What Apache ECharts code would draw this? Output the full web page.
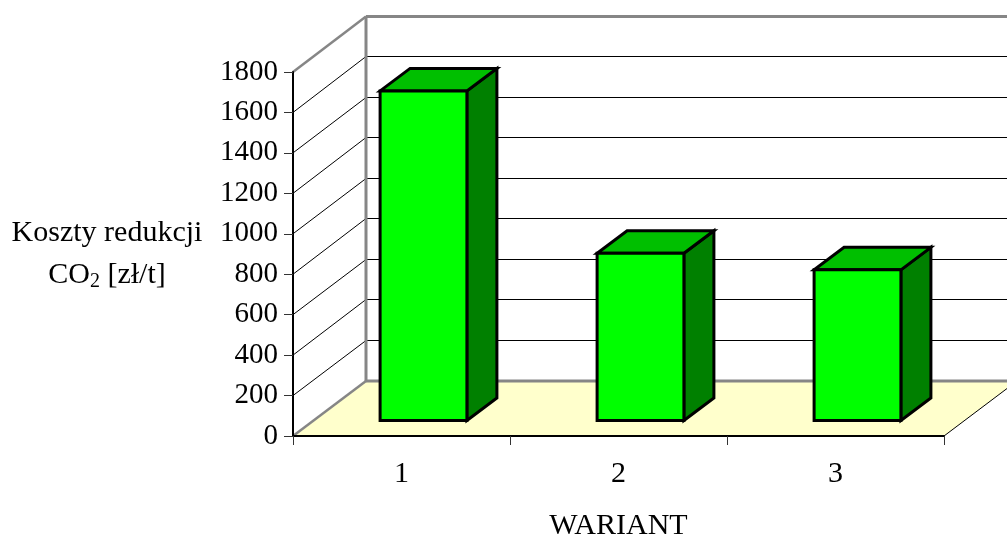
<!DOCTYPE html>
<html>
<head>
<meta charset="utf-8">
<style>html,body{margin:0;padding:0;background:#fff}#chart{width:1007px;height:535px}</style>
<script src="https://cdn.jsdelivr.net/npm/echarts@6/dist/echarts.min.js"></script>
</head>
<body>
<div id="chart"></div>
<script>
// Unit CO2 reduction cost for each variant
const categories = ['1', '2', '3'];
const costs = [1630, 827, 745];
const gridValues = [200, 400, 600, 800, 1000, 1200, 1400, 1600];
const axisMax = 1800;
const axisStep = 200;

// Oblique projection of the chart box and of the columns inside it
const BOX_DX = 73, BOX_DY = -55;
const BAR_DX = 30, BAR_DY = -22.5;
const FRONT_DX = 22, FRONT_DY = -15.5;
const BAR_SHARE = 0.4;
const TICK_LENGTH = 9;

const WALL_GREY = '#868686';
const FONT = '"Liberation Serif", "Times New Roman", serif';
const FONT_SIZE = 30;

function line(x1, y1, x2, y2, stroke, lineWidth) {
  return { type: 'line', shape: { x1, y1, x2, y2 }, style: { stroke, lineWidth, fill: null } };
}

function poly(points, fill) {
  return {
    type: 'polygon',
    shape: { points },
    style: { fill, stroke: '#000', lineWidth: 3, lineJoin: 'miter' }
  };
}

// Floor, back wall, side wall and their grid lines
function renderBox(params, api) {
  const band = api.size([1, 0])[0];
  const origin = api.coord([0, 0]);
  const left = origin[0] - band / 2;
  const base = origin[1];
  const right = left + band * categories.length;
  const top = api.coord([0, axisMax])[1];
  const topBack = top + BOX_DY - 0.5;
  const children = [];

  children.push({
    type: 'polygon',
    shape: { points: [[left, base], [right, base], [right + BOX_DX, base + BOX_DY], [left + BOX_DX, base + BOX_DY]] },
    style: { fill: '#FFFFCC' }
  });
  gridValues.forEach(function (v) {
    const y = api.coord([0, v])[1];
    const backY = Math.floor(y + BOX_DY - 0.5) + 0.5;
    children.push(line(left, y, left + BOX_DX, backY, '#000', 1));
    children.push(line(left + BOX_DX, backY, right + BOX_DX, backY, '#000', 1));
  });
  children.push(line(left + BOX_DX, base + BOX_DY, right + BOX_DX, base + BOX_DY, WALL_GREY, 3));
  children.push(line(left + BOX_DX, topBack, right + BOX_DX, topBack, WALL_GREY, 3));
  children.push(line(left + BOX_DX, topBack, left + BOX_DX, base + BOX_DY, WALL_GREY, 3));
  children.push(line(left, base, left + BOX_DX, base + BOX_DY, WALL_GREY, 2.5));
  children.push(line(left, top, left + BOX_DX, topBack, WALL_GREY, 2.5));
  children.push(line(right, base, right + BOX_DX, base + BOX_DY, '#000', 1));
  return { type: 'group', children };
}

// One column: front, top and side faces
function renderBar(params, api) {
  const idx = api.value(0);
  const band = api.size([1, 0])[0];
  const w = band * BAR_SHARE;
  const foot = api.coord([idx, 0]);
  const head = api.coord([idx, api.value(1)]);
  const x0 = foot[0] + FRONT_DX - w / 2;
  const x1 = x0 + w;
  const yb = foot[1] + FRONT_DY;
  const yt = head[1] + FRONT_DY;
  return {
    type: 'group',
    children: [
      poly([[x1, yb], [x1 + BAR_DX, yb + BAR_DY], [x1 + BAR_DX, yt + BAR_DY], [x1, yt]], '#008000'),
      poly([[x0, yt], [x1, yt], [x1 + BAR_DX, yt + BAR_DY], [x0 + BAR_DX, yt + BAR_DY]], '#00BF00'),
      poly([[x0, yb], [x1, yb], [x1, yt], [x0, yt]], '#00FF00')
    ]
  };
}

const chart = echarts.init(document.getElementById('chart'), null, { renderer: 'canvas' });
chart.setOption({
  animation: false,
  backgroundColor: '#fff',
  textStyle: { fontFamily: FONT },
  title: {
    text: 'Koszty redukcji\n{n|CO}{s|2}{n| [zł/t]}',
    left: 107,
    top: 212,
    padding: 0,
    textAlign: 'center',
    textStyle: {
      color: '#000', fontSize: FONT_SIZE, fontWeight: 'normal', fontFamily: FONT, lineHeight: 42,
      rich: {
        n: { fontSize: FONT_SIZE, fontFamily: FONT, color: '#000', lineHeight: 42 },
        s: { fontSize: 20, fontFamily: FONT, color: '#000', lineHeight: 42, padding: [14, 0, 0, 0] }
      }
    }
  },
  grid: { left: 293, top: 72, width: 651, height: 364, containLabel: false, outerBoundsMode: 'none' },
  xAxis: {
    type: 'category',
    data: categories,
    z: 5,
    name: 'WARIANT',
    nameLocation: 'middle',
    nameGap: 75,
    nameMoveOverlap: false,
    nameTextStyle: { color: '#000', fontSize: FONT_SIZE, fontFamily: FONT },
    axisLine: { lineStyle: { color: '#000', width: 2 } },
    axisTick: { show: true, alignWithLabel: false, length: TICK_LENGTH, lineStyle: { color: '#333', width: 1 } },
    axisLabel: { color: '#000', fontSize: FONT_SIZE, fontFamily: FONT, margin: 23 },
    splitLine: { show: false }
  },
  yAxis: {
    type: 'value',
    min: 0,
    max: axisMax,
    interval: axisStep,
    z: 5,
    axisLine: { show: true, lineStyle: { color: '#000', width: 2 } },
    axisTick: { show: true, length: TICK_LENGTH, lineStyle: { color: '#333', width: 1 } },
    axisLabel: { color: '#000', fontSize: 29, fontFamily: FONT, margin: 15, padding: [4, 0, 0, 0], hideOverlap: false, formatter: function (v) { return String(v); } },
    splitLine: { show: false }
  },
  series: [
    {
      type: 'custom',
      name: 'box',
      silent: true,
      clip: false,
      z: 1,
      data: [[0, 0]],
      encode: { x: 0, y: 1 },
      renderItem: renderBox
    },
    {
      type: 'custom',
      name: 'Koszty redukcji',
      clip: false,
      z: 2,
      data: costs.map(function (v, i) { return [i, v]; }),
      encode: { x: 0, y: 1 },
      renderItem: renderBar
    }
  ]
});
</script>
</body>
</html>
